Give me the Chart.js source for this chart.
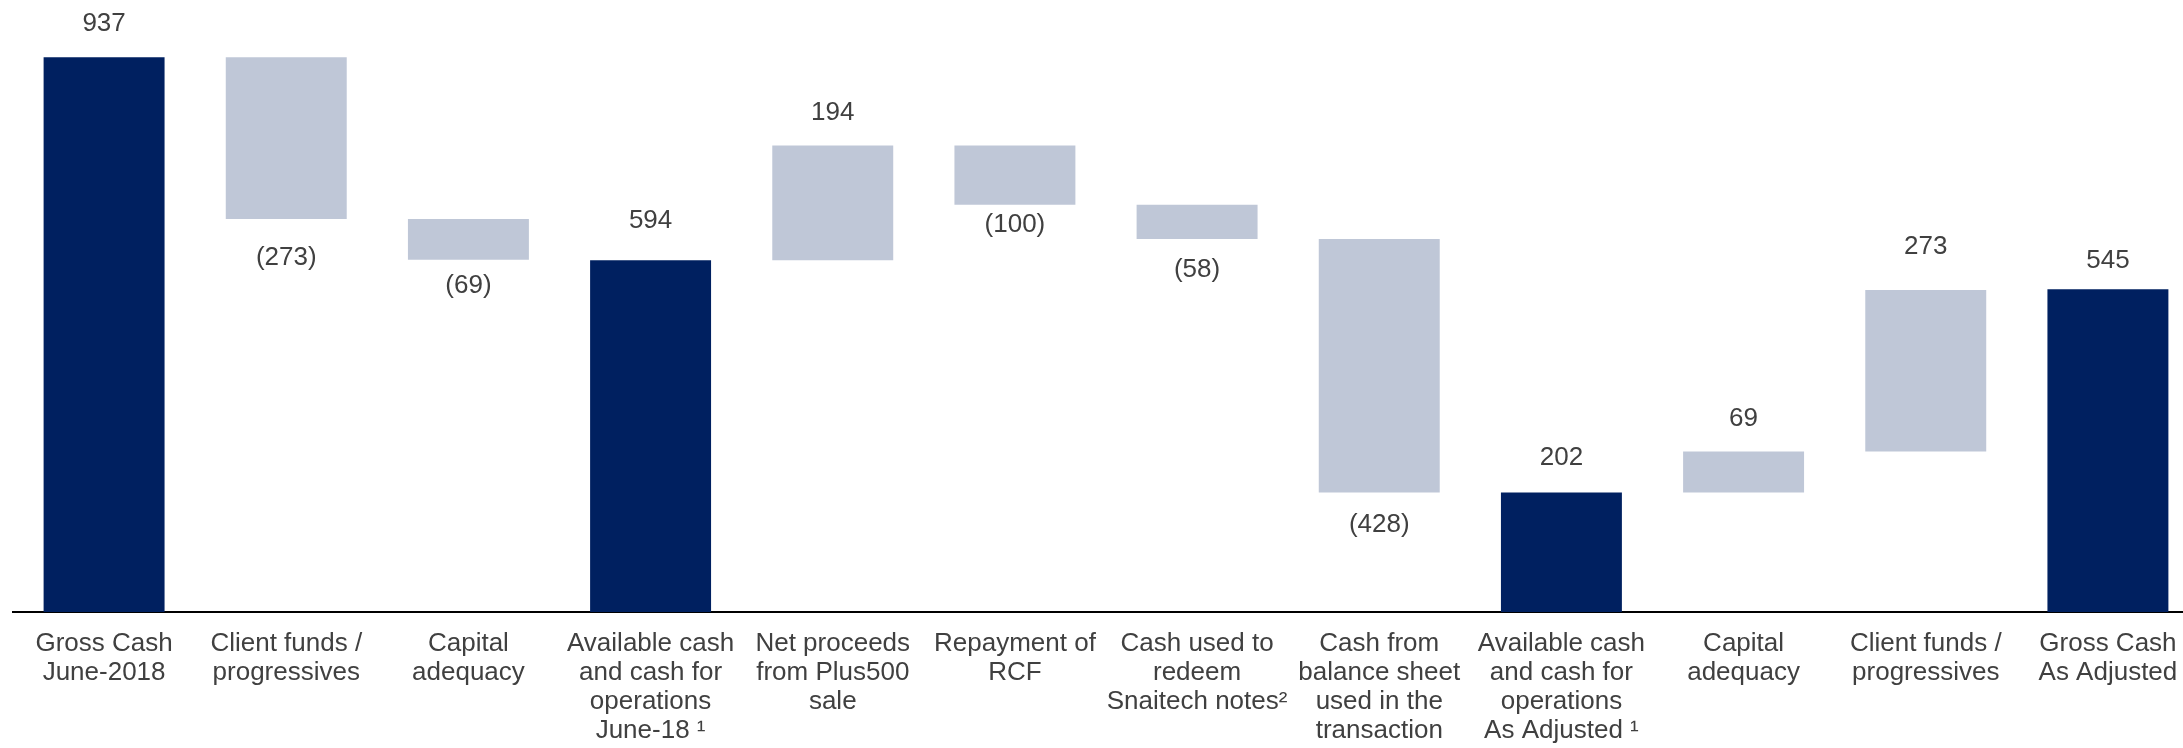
<!DOCTYPE html>
<html>
<head>
<meta charset="utf-8">
<script src="https://cdn.jsdelivr.net/npm/chart.js@4"></script>
<style>
    html, body {
        margin: 0;
        padding: 0;
        background: #ffffff;
        overflow: hidden;
    }
    #wrap {
        width: 2200px;
        height: 748px;
    }
</style>
</head>
<body>
<div id="wrap">
    <canvas id="waterfall" width="2200" height="748"></canvas>
</div>
<script>
const categories = [
    ["Gross Cash", "June-2018"],
    ["Client funds /", "progressives"],
    ["Capital", "adequacy"],
    ["Available cash", "and cash for", "operations", "June-18 \u00B9"],
    ["Net proceeds", "from Plus500", "sale"],
    ["Repayment of", "RCF"],
    ["Cash used to", "redeem", "Snaitech notes\u00B2"],
    ["Cash from", "balance sheet", "used in the", "transaction"],
    ["Available cash", "and cash for", "operations", "As Adjusted \u00B9"],
    ["Capital", "adequacy"],
    ["Client funds /", "progressives"],
    ["Gross Cash", "As Adjusted"],
];

// amounts in the picture, deltas are signed
const values = [937, -273, -69, 594, 194, -100, -58, -428, 202, 69, 273, 545];

// "total" bars stand on zero, "delta" bars float from the running total
const barTypes = [
    "total", "delta", "delta", "total", "delta", "delta",
    "delta", "delta", "total", "delta", "delta", "total",
];

// the labels on the slide were placed by hand, so a few sit a bit further off
const labelNudge = [0, 9, -4, 7, 0, -10, 1, 2, 2, 0, 10, -4];

const DARK = "#002060";
const LIGHT = "#BFC7D7";
const TEXT = "#404040";
const FONT = "'Liberation Sans', Arial, sans-serif";

function buildRanges(values, types) {
    let running = 0;
    return values.map((v, i) => {
        if (types[i] === "total") {
            running = v;
            return [0, v];
        }
        const start = running;
        running += v;
        return [start, running];
    });
}

function formatLabel(v) {
    return v < 0 ? `(${Math.abs(v)})` : String(v);
}

const valueLabels = {
    id: "valueLabels",
    afterDatasetsDraw(chart) {
        const ctx = chart.ctx;
        const meta = chart.getDatasetMeta(0);
        ctx.save();
        ctx.font = `26px ${FONT}`;
        ctx.fillStyle = TEXT;
        ctx.textAlign = "center";
        ctx.textBaseline = "middle";
        meta.data.forEach((bar, i) => {
            const top = Math.min(bar.y, bar.base);
            const bottom = Math.max(bar.y, bar.base);
            const v = values[i];
            if (v < 0) {
                ctx.fillText(formatLabel(v), bar.x, bottom + 30 + labelNudge[i]);
            } else {
                ctx.fillText(formatLabel(v), bar.x, top - 33 - labelNudge[i]);
            }
        });
        ctx.restore();
    },
};

const ranges = buildRanges(values, barTypes);

new Chart(document.querySelector("#waterfall"), {
    type: "bar",
    data: {
        labels: categories,
        datasets: [
            {
                data: ranges,
                backgroundColor: barTypes.map((t) => (t === "total" ? DARK : LIGHT)),
                borderWidth: 0,
                barPercentage: 0.664,
                categoryPercentage: 1,
            },
        ],
    },
    options: {
        responsive: false,
        animation: false,
        layout: {
            padding: { top: 20, left: 13, right: 1, bottom: 0 },
        },
        plugins: {
            legend: { display: false },
            tooltip: { enabled: false },
        },
        scales: {
            x: {
                grid: {
                    display: false,
                    drawTicks: false,
                },
                border: {
                    display: true,
                    color: "#000000",
                    width: 2,
                },
                ticks: {
                    color: TEXT,
                    font: { family: FONT, size: 26, lineHeight: 1.12 },
                    padding: 17,
                    maxRotation: 0,
                    minRotation: 0,
                    autoSkip: false,
                },
                afterFit(scale) {
                    scale.height = 136;
                },
            },
            y: {
                display: false,
                min: 0,
                max: 1000,
            },
        },
    },
    plugins: [valueLabels],
});
</script>
</body>
</html>
